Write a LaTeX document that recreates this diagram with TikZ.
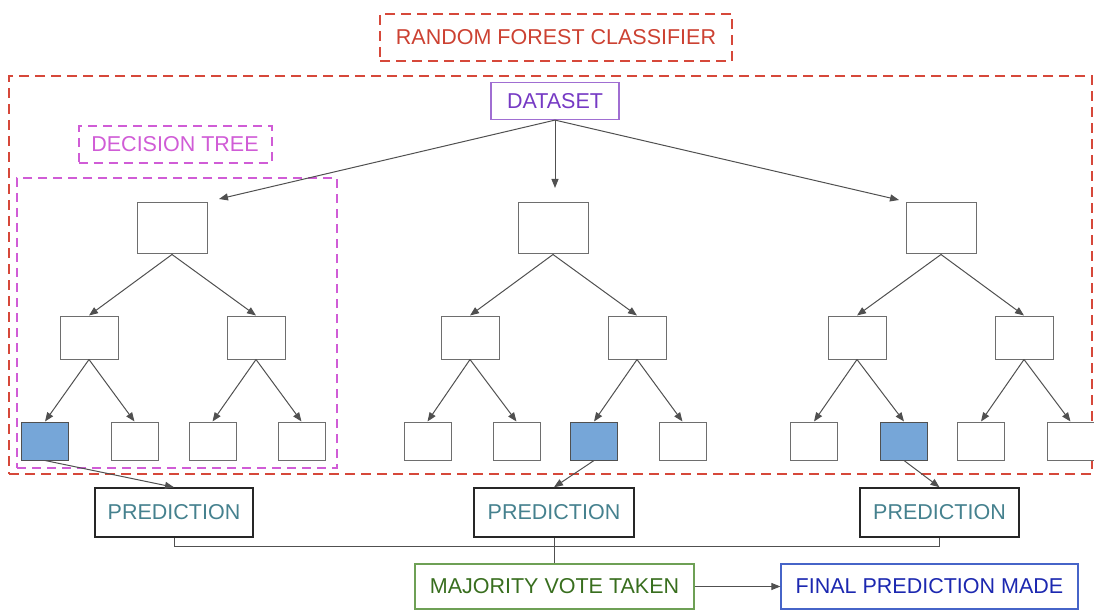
\documentclass[tikz,border=0pt]{standalone}
\usepackage{fontspec}
\setmainfont{Liberation Sans}
\usetikzlibrary{arrows.meta}
\definecolor{rfred}{RGB}{204,65,50}
\definecolor{rfdash}{RGB}{214,72,58}
\definecolor{dspurple}{RGB}{118,58,196}
\definecolor{dsborder}{RGB}{160,110,210}
\definecolor{dtmag}{RGB}{208,92,214}
\definecolor{predteal}{RGB}{69,129,142}
\definecolor{mvgreen}{RGB}{56,110,30}
\definecolor{mvborder}{RGB}{110,160,85}
\definecolor{fpblue}{RGB}{28,40,176}
\definecolor{fpborder}{RGB}{70,100,200}
\definecolor{leafblue}{RGB}{118,166,216}
\definecolor{boxgray}{RGB}{110,110,110}
\definecolor{arrgray}{RGB}{80,80,80}
\tikzset{
  lbl/.style={font=\fontsize{21.5}{24}\selectfont, inner sep=0pt, align=center},
  reddash/.style={draw=rfdash, line width=2.2pt, dash pattern=on 10pt off 6pt},
  magdash/.style={draw=dtmag, line width=2pt, dash pattern=on 9pt off 6pt},
  rootbox/.style={draw=boxgray, line width=1pt, fill=white, minimum width=70pt, minimum height=51pt, inner sep=0pt},
  midbox/.style={draw=boxgray, line width=1pt, fill=white, minimum width=58pt, minimum height=43pt, inner sep=0pt},
  leafbox/.style={draw=boxgray, line width=1pt, fill=white, minimum width=47pt, minimum height=38pt, inner sep=0pt},
  hitbox/.style={leafbox, fill=leafblue, draw=arrgray},
  predbox/.style={lbl, draw=black!85, line width=1.5pt, text=predteal, minimum height=49pt},
  arr/.style={draw=arrgray, line width=1pt, -{Triangle[length=9pt,width=7pt]}},
  plain/.style={draw=arrgray, line width=1pt}
}
\begin{document}
\begin{tikzpicture}[x=1pt,y=-1pt]
\useasboundingbox (0,0) rectangle (1094,612);
% frames
\node[reddash, minimum width=1083pt, minimum height=398pt, inner sep=0pt] (forest) at (550.5,275) {};
\node[magdash, minimum width=320pt, minimum height=290pt, inner sep=0pt] (dtframe) at (177,323) {};
% labels
\node[lbl, reddash, text=rfred, minimum width=352pt, minimum height=47pt] (title) at (556,37.5) {RANDOM FOREST CLASSIFIER};
\node[lbl, draw=dsborder, line width=1.2pt, text=dspurple, minimum width=128pt, minimum height=37pt] (dataset) at (555,101) {DATASET};
\node[lbl, magdash, text=dtmag, minimum width=193pt, minimum height=37pt] (dtlabel) at (175,144.5) {DECISION TREE};

% tree 1
\node[rootbox] (r1) at (172,228.5) {};
\node[midbox] (a1) at (89,337.5) {};
\node[midbox] (b1) at (256,337.5) {};
\node[hitbox] (l11) at (45,441) {};
\node[leafbox] (l12) at (134.5,441) {};
\node[leafbox] (l13) at (212.5,441) {};
\node[leafbox] (l14) at (301.5,441) {};
% tree 2
\node[rootbox] (r2) at (553,228.5) {};
\node[midbox] (a2) at (470,337.5) {};
\node[midbox] (b2) at (637,337.5) {};
\node[leafbox] (l21) at (427.5,441) {};
\node[leafbox] (l22) at (516.5,441) {};
\node[hitbox] (l23) at (594,441) {};
\node[leafbox] (l24) at (682.5,441) {};
% tree 3
\node[rootbox] (r3) at (941,228.5) {};
\node[midbox] (a3) at (857,337.5) {};
\node[midbox] (b3) at (1024,337.5) {};
\node[leafbox] (l31) at (814,441) {};
\node[hitbox] (l32) at (904,441) {};
\node[leafbox] (l33) at (981,441) {};
\node[leafbox] (l34) at (1070.5,441) {};

% dataset arrows
\coordinate (in1) at (219,199);
\coordinate (in2) at (555,188);
\coordinate (in3) at (899,200);
\draw[arr] (dataset.south) -- (in1);
\draw[arr] (dataset.south) -- (in2);
\draw[arr] (dataset.south) -- (in3);

% tree arrows
\foreach \t in {1,2,3}{
  \draw[arr] (r\t.south) -- (a\t.north);
  \draw[arr] (r\t.south) -- (b\t.north);
  \draw[arr] (a\t.south) -- (l\t1.north);
  \draw[arr] (a\t.south) -- (l\t2.north);
  \draw[arr] (b\t.south) -- (l\t3.north);
  \draw[arr] (b\t.south) -- (l\t4.north);
}

% predictions
\node[predbox, minimum width=158pt] (p1) at (174,512.5) {PREDICTION};
\node[predbox, minimum width=160pt] (p2) at (554,512.5) {PREDICTION};
\node[predbox, minimum width=159pt] (p3) at (939.5,512.5) {PREDICTION};
\draw[arr] (l11.south) -- (p1.north);
\draw[arr] (l23.south) -- (p2.north);
\draw[arr] (l32.south) -- (p3.north);

% vote
\node[lbl, draw=mvborder, line width=1.2pt, text=mvgreen, minimum width=279pt, minimum height=45pt] (vote) at (554.5,586.5) {MAJORITY VOTE TAKEN};
\node[lbl, draw=fpborder, line width=1.2pt, text=fpblue, minimum width=297pt, minimum height=45pt] (final) at (929.5,586.5) {FINAL PREDICTION MADE};
\draw[plain] (p1.south) -- ++(0,9) -| (p3.south);
\draw[plain] (p2.south) -- (p2.south |- vote.north);
\draw[arr] (vote.east) -- (final.west);
\end{tikzpicture}
\end{document}
